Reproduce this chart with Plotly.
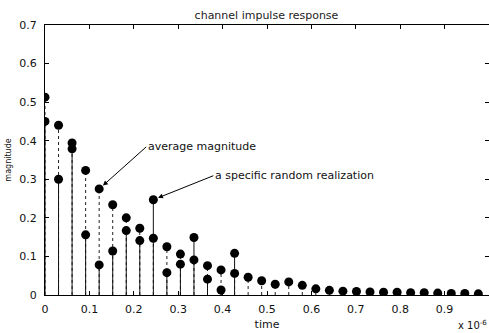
import plotly.graph_objects as go

# ---- data (time in units of 1e-6 s) ----
TIME_US = [0.0, 0.0305, 0.061, 0.0915, 0.122, 0.1525, 0.183, 0.2135, 0.244, 0.2745,
           0.305, 0.3355, 0.366, 0.3965, 0.427, 0.4575, 0.488, 0.5185, 0.549, 0.5795,
           0.61, 0.6405, 0.671, 0.7015, 0.732, 0.7625, 0.793, 0.8235, 0.854, 0.8845,
           0.915, 0.9455, 0.976]
AVG_MAG = [0.513, 0.44, 0.379, 0.323, 0.275, 0.234, 0.200, 0.173, 0.147, 0.125,
           0.106, 0.091, 0.076, 0.065, 0.056, 0.046, 0.037, 0.028, 0.034, 0.025,
           0.016, 0.012, 0.010, 0.009, 0.008, 0.007, 0.007, 0.006, 0.006, 0.005,
           0.004, 0.004, 0.003]
RAND_MAG = [0.45, 0.30, 0.394, 0.156, 0.078, 0.114, 0.167, 0.141, 0.247, 0.058,
            0.080, 0.149, 0.041, 0.013, 0.108]
X_TICKS = [0, 0.1, 0.2, 0.3, 0.4, 0.5, 0.6, 0.7, 0.8, 0.9]
X_TICK_TEXT = ["0", "0.1", "0.2", "0.3", "0.4", "0.5", "0.6", "0.7", "0.8", "0.9"]
Y_TICKS = [0, 0.1, 0.2, 0.3, 0.4, 0.5, 0.6, 0.7]
Y_TICK_TEXT = ["0", "0.1", "0.2", "0.3", "0.4", "0.5", "0.6", "0.7"]

FONT = "DejaVu Sans, Verdana, sans-serif"


def stems(xs, ys):
    sx, sy = [], []
    for x, y in zip(xs, ys):
        sx += [x, x, None]
        sy += [0, y, None]
    return sx, sy


fig = go.Figure()
t_rand = TIME_US[:len(RAND_MAG)]

ax_, ay_ = stems(TIME_US, AVG_MAG)
fig.add_trace(go.Scatter(x=ax_, y=ay_, mode="lines", line=dict(color="#222", width=1, dash="dot"),
                         hoverinfo="skip", showlegend=False))
rx_, ry_ = stems(t_rand, RAND_MAG)
fig.add_trace(go.Scatter(x=rx_, y=ry_, mode="lines", line=dict(color="#111", width=1),
                         hoverinfo="skip", showlegend=False))
fig.add_trace(go.Scatter(x=TIME_US, y=AVG_MAG, mode="markers",
                         marker=dict(symbol="circle", size=9, color="black"),
                         name="average magnitude", showlegend=False))
fig.add_trace(go.Scatter(x=t_rand, y=RAND_MAG, mode="markers",
                         marker=dict(symbol="circle", size=9, color="black"),
                         name="a specific random realization", showlegend=False))
# invisible trace for right-side ticks
fig.add_trace(go.Scatter(x=[0], y=[0], yaxis="y2", mode="markers",
                         marker=dict(opacity=0), hoverinfo="skip", showlegend=False))

fig.update_layout(
    width=489, height=333,
    margin=dict(l=45, r=0, t=25, b=38),
    paper_bgcolor="white", plot_bgcolor="white",
    font=dict(family=FONT, size=11, color="#111"),
    title=dict(text="channel impulse response", x=0.545, xanchor="center",
               y=1 - 15 / 333, yanchor="middle", yref="container",
               font=dict(size=11, color="#222")),
    xaxis=dict(range=[0, 1.0], tickvals=X_TICKS, ticktext=X_TICK_TEXT,
               ticks="inside", ticklen=4, tickcolor="black",
               showline=True, linecolor="black", linewidth=1, mirror="ticks",
               showgrid=False, zeroline=False, automargin=False,
               tickfont=dict(size=11), ticklabelstandoff=4,
               title=dict(text="time", font=dict(size=11), standoff=5)),
    yaxis=dict(range=[0, 0.7], tickvals=Y_TICKS, ticktext=Y_TICK_TEXT,
               ticks="inside", ticklen=4, tickcolor="black",
               showline=True, linecolor="black", linewidth=1, mirror=False,
               showgrid=False, zeroline=False, automargin=False,
               tickfont=dict(size=11), ticklabelstandoff=5,
               title=dict(text="magnitude", font=dict(size=8), standoff=6)),
    yaxis2=dict(range=[0, 0.7], tickvals=Y_TICKS, overlaying="y", side="right",
                ticks="inside", ticklen=4, tickcolor="black", showline=False,
                showticklabels=False, showgrid=False, zeroline=False),
    annotations=[
        dict(text="x 10<sup>-6</sup>", xref="paper", yref="paper", x=1.0, y=-0.11,
             xanchor="right", yanchor="middle", showarrow=False, font=dict(size=10)),
        dict(text="average magnitude", x=TIME_US[4], y=AVG_MAG[4], xref="x", yref="y",
             ax=47, ay=-42, xanchor="left", yanchor="middle",
             showarrow=True, arrowhead=2, arrowsize=1, arrowwidth=1,
             arrowcolor="black", standoff=5, font=dict(size=11)),
        dict(text="a specific random realization", x=t_rand[8], y=RAND_MAG[8],
             xref="x", yref="y", ax=60, ay=-24, xanchor="left", yanchor="middle",
             showarrow=True, arrowhead=2, arrowsize=1, arrowwidth=1,
             arrowcolor="black", standoff=5, font=dict(size=11)),
    ],
)

fig.write_html("out.html")
